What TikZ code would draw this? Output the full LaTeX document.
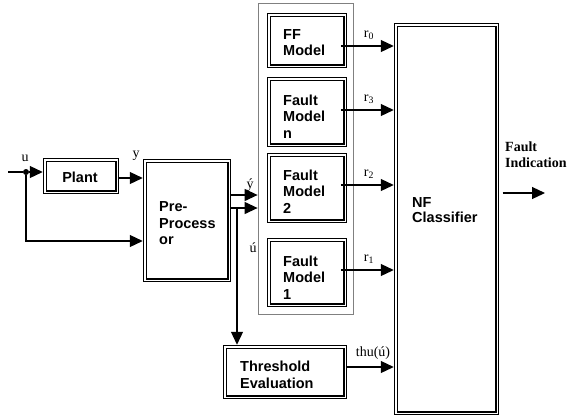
\documentclass[tikz,border=0pt]{standalone}
\usepackage{fontspec}
\setmainfont{Liberation Serif}
\setsansfont{Liberation Sans}
\usetikzlibrary{arrows.meta}

\begin{document}
\begin{tikzpicture}[x=1pt, y=-1pt,
  dbox/.style={draw, line width=1.1pt, double=white, double distance=1.4pt,
               inner sep=0pt, rectangle},
  bank/.style={draw=black!50, line width=0.8pt, inner sep=0pt, rectangle},
  btxt/.style={font=\sffamily\bfseries\fontsize{14.5}{16.5}\selectfont,
               align=left, inner sep=0pt, anchor=west},
  sig/.style={font=\fontsize{14}{16}\selectfont, inner sep=0pt},
  arr/.style={line width=1.2pt, -{Triangle[length=13pt,width=12pt]}},
  wire/.style={line width=1.2pt}
]
\useasboundingbox (0,0) rectangle (567,416);

% model bank frame
\node[bank, minimum width=95pt, minimum height=311pt] (bank) at (305.5,158.5) {};

% blocks (double-ruled boxes)
\node[dbox, minimum width=72.4pt,  minimum height=32.4pt]  (plant) at (81,176) {};
\node[dbox, minimum width=84.4pt,  minimum height=119.4pt] (pre)   at (187,220.5) {};
\node[dbox, minimum width=76.4pt,  minimum height=51.4pt]  (ff)    at (307,40.5) {};
\node[dbox, minimum width=76.4pt,  minimum height=66.4pt]  (fmn)   at (307,112) {};
\node[dbox, minimum width=76.4pt,  minimum height=66.4pt]  (fm2)   at (307,188) {};
\node[dbox, minimum width=76.4pt,  minimum height=65.4pt]  (fm1)   at (307,272.5) {};
\node[dbox, minimum width=120.4pt, minimum height=50.4pt]  (thr)   at (285,372) {};
\node[dbox, minimum width=101.4pt, minimum height=388.4pt] (nf)    at (446.5,219) {};

% block captions
\node[btxt, anchor=center] (plantT) at (80,177) {Plant};
\node[btxt] (preT) at (159,223.5) {Pre-\\Process\\or};
\node[btxt] (ffT)  at (283,42.5)  {FF\\Model};
\node[btxt] (fmnT) at (283,116.5) {Fault\\Model\\n};
\node[btxt] (fm2T) at (283,191.5) {Fault\\Model\\2};
\node[btxt] (fm1T) at (283,277.5) {Fault\\Model\\1};
\node[btxt] (thrT) at (240,375)   {Threshold\\Evaluation};
\node[btxt, font=\sffamily\bfseries\fontsize{14.5}{15}\selectfont] (nfT) at (412,210) {NF\\Classifier};

% input branch point
\coordinate (uin) at (8,172);
\node[circle, fill, inner sep=0pt, minimum size=6pt] (dot) at (26,172) {};
\coordinate (fb) at (0,241);
\coordinate (br) at (237,208);
\coordinate (out) at (545,193);

% connectors
\draw[wire] (uin) -- (dot);
\draw[arr, shorten >=1.5pt] (dot) -- (dot -| plant.west);
\draw[arr, shorten >=1.5pt] (plant.east |- 0,178) -- (pre.west |- 0,178);
\draw[arr, shorten >=1.5pt] (dot) |- (pre.west |- fb);
\draw[arr] (pre.east |- 0,195) -- (bank.west |- 0,195);
\draw[arr] (pre.east |- 0,208) -- (bank.west |- 0,208);
\draw[arr, shorten >=1.5pt] (br) -- (br |- thr.north);

\draw[arr, shorten <=-5pt, shorten >=1.5pt] (ff.east  |- 0,46)  -- (nf.west |- 0,46);
\draw[arr, shorten <=-5pt, shorten >=1.5pt] (fmn.east |- 0,110) -- (nf.west |- 0,110);
\draw[arr, shorten <=-5pt, shorten >=1.5pt] (fm2.east |- 0,185) -- (nf.west |- 0,185);
\draw[arr, shorten <=-5pt, shorten >=1.5pt] (fm1.east |- 0,270) -- (nf.west |- 0,270);
\draw[arr, shorten >=1.5pt] (thr.east |- 0,367) -- (nf.west |- 0,367);
\draw[arr, shorten <=4.8pt] (nf.east |- out) -- (out);

% signal labels
\node[sig] (lu)  at (25,158)  {u};
\node[sig] (ly)  at (136,156) {y};
\node[sig] (lyy) at (250,185) {ý};
\node[sig] (luu) at (253,248) {ú};
\node[sig] (lr0) at (369,35)  {r\textsubscript{0}};
\node[sig] (lr3) at (369,99)  {r\textsubscript{3}};
\node[sig] (lr2) at (369,174) {r\textsubscript{2}};
\node[sig] (lr1) at (369,259) {r\textsubscript{1}};
\node[sig] (lth) at (373,353) {thu(ú)};
\node[sig, font=\bfseries\fontsize{14}{16}\selectfont, align=left, anchor=base west]
  (lfi) at (505,167) {Fault\\Indication};
\end{tikzpicture}
\end{document}
